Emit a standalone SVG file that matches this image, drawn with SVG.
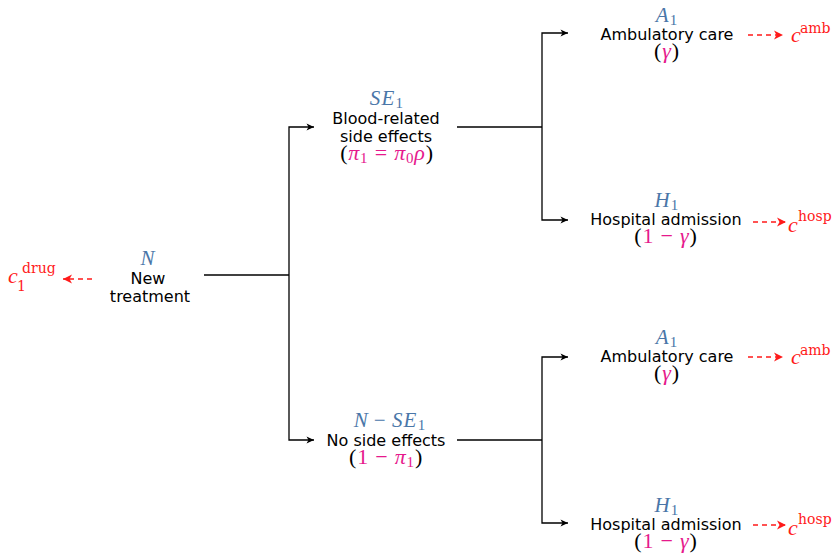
<svg xmlns="http://www.w3.org/2000/svg" width="839" height="554" viewBox="0 0 839 554">
<defs>
<style>
.t{font-family:"DejaVu Sans",sans-serif;font-size:16px;fill:#000;text-anchor:middle}
.m{font-family:"Liberation Serif",serif;font-style:italic;font-size:21px;letter-spacing:1.2px;fill:#4a76a8;text-anchor:middle}
.p{font-family:"Liberation Serif",serif;font-size:22px;letter-spacing:0.8px;fill:#000;text-anchor:middle}
.pm{fill:#e6198c}
.it{font-style:italic}
.up{font-style:normal}
.sb{font-size:15px}
.c{font-family:"Liberation Serif",serif;fill:#ff1a1a;font-size:22px;font-style:italic}
.cs{font-family:"DejaVu Serif",serif;font-size:14px;fill:#ff1a1a}
.ln{fill:none;stroke:#000;stroke-width:1.3}
.cost{fill:none;stroke:#ff1a1a;stroke-width:1.7;stroke-dasharray:5 4}
</style>
<marker id="ah" viewBox="-8 -4 9 8" refX="0" refY="0" markerWidth="9" markerHeight="8" markerUnits="userSpaceOnUse" orient="auto">
<path d="M0,0 L-7.5,-3.5 L-5.5,0 L-7.5,3.5 Z" fill="#000"/>
</marker>
<marker id="ahr" viewBox="-10 -5 11 10" refX="0" refY="0" markerWidth="11" markerHeight="10" markerUnits="userSpaceOnUse" orient="auto">
<path d="M0,0 L-9,-4.5 L-6.5,0 L-9,4.5 Z" fill="#ff1a1a"/>
</marker>
</defs>
<rect width="839" height="554" fill="#fff"/>

<g id="connectors">
<path class="ln" d="M204,275 H289"/>
<path class="ln" d="M289,275 V127 H314" marker-end="url(#ah)"/>
<path class="ln" d="M289,275 V440 H314" marker-end="url(#ah)"/>
<path class="ln" d="M457,127 H542"/>
<path class="ln" d="M542,127 V33 H568" marker-end="url(#ah)"/>
<path class="ln" d="M542,127 V220 H568" marker-end="url(#ah)"/>
<path class="ln" d="M457,440 H542"/>
<path class="ln" d="M542,440 V357 H568" marker-end="url(#ah)"/>
<path class="ln" d="M542,440 V523 H568" marker-end="url(#ah)"/>
<path class="cost" d="M92,279 H63" marker-end="url(#ahr)"/>
<path class="cost" d="M748,35 H783" marker-end="url(#ahr)"/>
<path class="cost" d="M753,222 H786" marker-end="url(#ahr)"/>
<path class="cost" d="M748,357 H783" marker-end="url(#ahr)"/>
<path class="cost" d="M753,525 H786" marker-end="url(#ahr)"/>
</g>

<g id="cost-drug">
<text class="c" x="8" y="283">c</text>
<text class="cs" x="17" y="291" font-size="15">1</text>
<text class="cs" x="22" y="273">drug</text>
</g>

<g id="node-N">
<text class="m" x="148" y="265">N</text>
<text class="t" x="148" y="284">New</text>
<text class="t" x="150" y="302">treatment</text>
</g>

<g id="node-SE1">
<text class="m" x="387" y="105">SE<tspan class="up sb" dy="3">1</tspan></text>
<text class="t" x="386" y="124">Blood-related</text>
<text class="t" x="386" y="142">side effects</text>
<text class="p" x="387" y="160">(<tspan class="pm it">π</tspan><tspan class="pm sb" dy="3">1</tspan><tspan class="pm" dy="-3"> = </tspan><tspan class="pm it">π</tspan><tspan class="pm sb" dy="3">0</tspan><tspan class="pm it" dy="-3">ρ</tspan>)</text>
</g>

<g id="node-NSE1">
<text class="m" x="390" y="427">N<tspan class="up" dx="5">−</tspan><tspan dx="5">SE</tspan><tspan class="up sb" dy="3">1</tspan></text>
<text class="t" x="386" y="446">No side effects</text>
<text class="p" x="386" y="464">(<tspan class="pm">1 − </tspan><tspan class="pm it">π</tspan><tspan class="pm sb" dy="3">1</tspan><tspan dy="-3">)</tspan></text>
</g>

<g id="node-A1-top">
<text class="m" x="667" y="22">A<tspan class="up sb" dy="3">1</tspan></text>
<text class="t" x="667" y="40">Ambulatory care</text>
<text class="p" x="667" y="58">(<tspan class="pm it">γ</tspan>)</text>
</g>
<g id="cost-amb-top">
<text class="c" x="791" y="42">c</text>
<text class="cs" x="800" y="33">amb</text>
</g>

<g id="node-H1-top">
<text class="m" x="667" y="207">H<tspan class="up sb" dy="3">1</tspan></text>
<text class="t" x="666" y="225">Hospital admission</text>
<text class="p" x="666" y="243">(<tspan class="pm">1 − </tspan><tspan class="pm it">γ</tspan>)</text>
</g>
<g id="cost-hosp-top">
<text class="c" x="788" y="232">c</text>
<text class="cs" x="798" y="221">hosp</text>
</g>

<g id="node-A1-bottom">
<text class="m" x="667" y="344">A<tspan class="up sb" dy="3">1</tspan></text>
<text class="t" x="667" y="362">Ambulatory care</text>
<text class="p" x="667" y="380">(<tspan class="pm it">γ</tspan>)</text>
</g>
<g id="cost-amb-bottom">
<text class="c" x="791" y="364">c</text>
<text class="cs" x="800" y="355">amb</text>
</g>

<g id="node-H1-bottom">
<text class="m" x="667" y="512">H<tspan class="up sb" dy="3">1</tspan></text>
<text class="t" x="666" y="530">Hospital admission</text>
<text class="p" x="666" y="548">(<tspan class="pm">1 − </tspan><tspan class="pm it">γ</tspan>)</text>
</g>
<g id="cost-hosp-bottom">
<text class="c" x="788" y="535">c</text>
<text class="cs" x="798" y="524">hosp</text>
</g>
</svg>
